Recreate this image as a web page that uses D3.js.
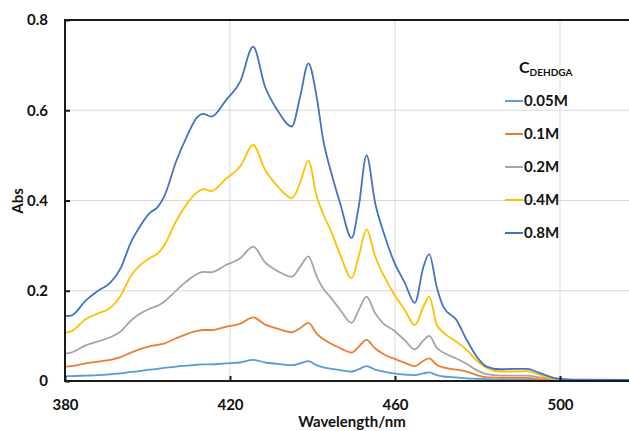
<!DOCTYPE html>
<html>
<head>
<meta charset="utf-8">
<script src="https://cdn.jsdelivr.net/npm/d3@7"></script>
<style>
  body { margin: 0; background: #fff; }
  svg { display: block; font-family: Lato, "Open Sans", sans-serif; }
</style>
</head>
<body>
<svg id="chart" width="629" height="431"></svg>
<script>
// wavelengths (nm) where the curves were read
const wavelengths = [380, 381.5, 385, 388, 391, 393.5, 396, 398, 400.5, 402.5, 404, 407, 409.5, 412, 413.5, 415.5, 419, 422.5, 425.6, 428.5, 431.5, 435, 437, 439, 441, 442.6, 444.6, 446.7, 449.5, 451.2, 453.1, 455.2, 457.2, 459.6, 462.4, 464.8, 466.9, 468.3, 470.1, 471.7, 474.9, 477.4, 479.8, 482.2, 485.5, 489, 492, 495, 499, 505, 520]

const abs005 = [0.011, 0.011, 0.012, 0.013, 0.015, 0.017, 0.020, 0.022, 0.025, 0.027, 0.029, 0.032, 0.034, 0.036, 0.037, 0.037, 0.039, 0.041, 0.047, 0.041, 0.038, 0.035, 0.039, 0.044, 0.035, 0.030, 0.027, 0.024, 0.021, 0.026, 0.033, 0.025, 0.021, 0.017, 0.014, 0.013, 0.017, 0.019, 0.013, 0.010, 0.008, 0.006, 0.005, 0.004, 0.003, 0.003, 0.003, 0.002, 0.001, 0.000, 0.000]
const abs01 = [0.032, 0.033, 0.039, 0.043, 0.047, 0.053, 0.063, 0.070, 0.077, 0.080, 0.083, 0.095, 0.104, 0.111, 0.113, 0.113, 0.120, 0.127, 0.141, 0.125, 0.116, 0.108, 0.117, 0.129, 0.105, 0.093, 0.082, 0.073, 0.063, 0.076, 0.091, 0.072, 0.060, 0.050, 0.040, 0.033, 0.045, 0.050, 0.036, 0.030, 0.025, 0.021, 0.013, 0.008, 0.007, 0.007, 0.007, 0.004, 0.002, 0.001, 0.000]
const abs02 = [0.061, 0.063, 0.079, 0.088, 0.097, 0.110, 0.134, 0.148, 0.160, 0.167, 0.175, 0.201, 0.221, 0.237, 0.242, 0.241, 0.257, 0.272, 0.298, 0.263, 0.244, 0.231, 0.253, 0.276, 0.232, 0.205, 0.183, 0.158, 0.129, 0.157, 0.187, 0.150, 0.127, 0.113, 0.090, 0.070, 0.090, 0.100, 0.074, 0.063, 0.050, 0.038, 0.024, 0.015, 0.012, 0.012, 0.012, 0.008, 0.003, 0.001, 0.001]
const abs04 = [0.107, 0.110, 0.137, 0.150, 0.162, 0.189, 0.233, 0.255, 0.272, 0.283, 0.300, 0.355, 0.392, 0.418, 0.425, 0.421, 0.448, 0.476, 0.523, 0.468, 0.432, 0.405, 0.439, 0.488, 0.410, 0.370, 0.330, 0.280, 0.228, 0.276, 0.336, 0.276, 0.235, 0.195, 0.157, 0.124, 0.165, 0.187, 0.125, 0.108, 0.087, 0.069, 0.045, 0.029, 0.021, 0.021, 0.022, 0.014, 0.004, 0.002, 0.001]
const abs08 = [0.144, 0.145, 0.178, 0.200, 0.218, 0.250, 0.308, 0.340, 0.372, 0.386, 0.408, 0.488, 0.541, 0.584, 0.592, 0.586, 0.622, 0.664, 0.741, 0.652, 0.600, 0.564, 0.630, 0.704, 0.630, 0.534, 0.460, 0.394, 0.317, 0.386, 0.500, 0.394, 0.330, 0.268, 0.217, 0.173, 0.253, 0.281, 0.209, 0.165, 0.135, 0.091, 0.054, 0.032, 0.026, 0.027, 0.027, 0.018, 0.006, 0.003, 0.002]

const seriesNames = ['0.05M', '0.1M', '0.2M', '0.4M', '0.8M']
const seriesColors = ['#5B9BD5', '#ED7D31', '#A5A5A5', '#FFC000', '#4472C4']
const seriesValues = [abs005, abs01, abs02, abs04, abs08]

const xTicks = [380, 420, 460, 500]
const yTicks = [0, 0.2, 0.4, 0.6, 0.8]

const svg = d3.select('#chart')
const plotLeft = 65, plotRight = 642.5, plotTop = 20, plotBottom = 381

const x = d3.scaleLinear().domain([380, 520]).range([plotLeft, plotRight])
const y = d3.scaleLinear().domain([0, 0.8]).range([plotBottom, plotTop])

// gridlines
svg.append('g').selectAll('line')
  .data(yTicks.filter(d => d > 0 && d < 0.8))
  .enter().append('line')
  .attr('x1', plotLeft).attr('x2', plotRight)
  .attr('y1', d => y(d)).attr('y2', d => y(d))
  .attr('stroke', '#d9d9d9').attr('stroke-width', 1)

svg.append('g').selectAll('line')
  .data(xTicks.filter(d => d > 380))
  .enter().append('line')
  .attr('x1', d => x(d)).attr('x2', d => x(d))
  .attr('y1', plotTop).attr('y2', plotBottom)
  .attr('stroke', '#d9d9d9').attr('stroke-width', 1)

// curves
const line = d3.line()
  .x((d, i) => x(wavelengths[i]))
  .y(d => y(d))
  .curve(d3.curveMonotoneX)

svg.append('g').selectAll('path')
  .data(seriesValues)
  .enter().append('path')
  .attr('d', d => line(d))
  .attr('fill', 'none')
  .attr('stroke', (d, i) => seriesColors[i])
  .attr('stroke-width', 1.8)
  .attr('stroke-linejoin', 'round')

// frame
svg.append('rect')
  .attr('x', plotLeft).attr('y', plotTop)
  .attr('width', plotRight - plotLeft).attr('height', plotBottom - plotTop)
  .attr('fill', 'none').attr('stroke', '#1a1a1a').attr('stroke-width', 2)

// axes with inward ticks
const xAxis = svg.append('g')
  .attr('transform', `translate(0,${plotBottom})`)
  .call(d3.axisBottom(x).tickValues(xTicks).tickSizeInner(-5).tickSizeOuter(0).tickPadding(18).tickFormat(d3.format('d')))
const yAxis = svg.append('g')
  .attr('transform', `translate(${plotLeft},0)`)
  .call(d3.axisLeft(y).tickValues(yTicks).tickSizeInner(-5).tickSizeOuter(0).tickPadding(17).tickFormat(d => d === 0 ? '0' : d3.format('.1f')(d)))

for (const ax of [xAxis, yAxis]) {
  ax.select('.domain').remove()
  ax.selectAll('line').attr('stroke', '#1a1a1a').attr('stroke-width', 2)
  ax.selectAll('text')
    .attr('font-family', 'Lato, "Open Sans", sans-serif')
    .attr('font-size', 15).attr('font-weight', 'bold').attr('fill', '#111')
}

// axis titles
svg.append('text')
  .attr('x', 352).attr('y', 427)
  .attr('text-anchor', 'middle')
  .attr('font-size', 15).attr('font-weight', 'bold').attr('fill', '#111')
  .text('Wavelength/nm')

svg.append('text')
  .attr('transform', 'translate(23,201) rotate(-90)')
  .attr('text-anchor', 'middle')
  .attr('font-size', 15).attr('font-weight', 'bold').attr('fill', '#111')
  .text('Abs')

// legend
const legTitle = svg.append('text')
  .attr('x', 519).attr('y', 73)
  .attr('font-size', 16).attr('font-weight', 'bold').attr('fill', '#111')
legTitle.append('tspan').text('C')
legTitle.append('tspan').attr('dy', 3).attr('font-size', 10).text('DEHDGA')

const legend = svg.append('g').selectAll('g')
  .data(seriesNames)
  .enter().append('g')
  .attr('transform', (d, i) => `translate(505,${101 + i * 33})`)

legend.append('line')
  .attr('x1', 0).attr('x2', 18)
  .attr('stroke', (d, i) => seriesColors[i]).attr('stroke-width', 2)

legend.append('text')
  .attr('x', 19).attr('dy', '0.35em')
  .attr('font-size', 15).attr('font-weight', 'bold').attr('fill', '#111')
  .text(d => d)
</script>
</body>
</html>
